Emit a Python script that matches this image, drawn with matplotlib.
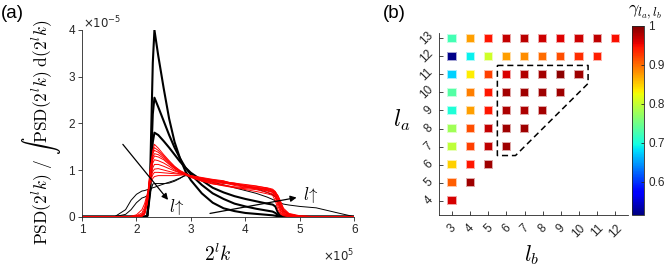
import numpy as np
import matplotlib
matplotlib.use("Agg")
import matplotlib.pyplot as plt
from matplotlib.colors import Normalize

plt.rcParams['font.family'] = ['Liberation Sans', 'DejaVu Sans']
plt.rcParams['mathtext.fontset'] = 'cm'

# ---------------- panel (a) data ----------------
x_grid = [1.0, 1.6, 1.8, 1.9, 2.0, 2.1, 2.15, 2.2, 2.25, 2.3, 2.33, 2.4, 2.5, 2.6, 2.7,
          2.8, 2.9, 3.0, 3.2, 3.4, 3.6, 3.8, 4.0, 4.2, 4.4, 4.5, 4.55, 4.6, 4.65, 4.7,
          4.8, 5.0, 5.3, 5.7, 6.0]

red_psd = [
    [0, 0, 0, 0, 0, 0.02, 0.08, 0.35, 0.95, 1.42, 1.55, 1.47, 1.33, 1.2, 1.08, 0.99, 0.93, 0.86, 0.78, 0.72, 0.68, 0.63, 0.58, 0.54, 0.49, 0.46, 0.34, 0.14, 0.05, 0.02, 0, 0, 0, 0, 0],
    [0, 0, 0, 0, 0, 0.01, 0.06, 0.3, 0.9, 1.38, 1.48, 1.42, 1.3, 1.18, 1.07, 0.98, 0.92, 0.87, 0.8, 0.75, 0.73, 0.69, 0.66, 0.63, 0.57, 0.53, 0.42, 0.22, 0.08, 0.03, 0, 0, 0, 0, 0],
    [0, 0, 0, 0, 0, 0.02, 0.1, 0.4, 1.0, 1.35, 1.42, 1.38, 1.28, 1.16, 1.05, 0.97, 0.91, 0.85, 0.77, 0.71, 0.66, 0.62, 0.6, 0.58, 0.52, 0.49, 0.43, 0.28, 0.12, 0.05, 0.01, 0, 0, 0, 0],
    [0, 0, 0, 0, 0, 0.01, 0.05, 0.28, 0.85, 1.28, 1.35, 1.33, 1.25, 1.14, 1.04, 0.96, 0.9, 0.86, 0.81, 0.78, 0.75, 0.72, 0.69, 0.66, 0.61, 0.57, 0.5, 0.3, 0.14, 0.06, 0.02, 0, 0, 0, 0],
    [0, 0, 0, 0, 0, 0.02, 0.08, 0.32, 0.88, 1.22, 1.3, 1.28, 1.22, 1.12, 1.03, 0.95, 0.9, 0.84, 0.76, 0.7, 0.67, 0.64, 0.62, 0.6, 0.55, 0.52, 0.46, 0.33, 0.18, 0.08, 0.02, 0, 0, 0, 0],
    [0, 0, 0, 0, 0, 0.03, 0.1, 0.38, 0.9, 1.15, 1.22, 1.2, 1.15, 1.08, 1.0, 0.94, 0.9, 0.87, 0.83, 0.79, 0.76, 0.71, 0.64, 0.6, 0.56, 0.53, 0.48, 0.37, 0.2, 0.1, 0.03, 0.01, 0, 0, 0],
    [0, 0, 0, 0, 0, 0.02, 0.08, 0.3, 0.8, 1.05, 1.12, 1.12, 1.08, 1.03, 0.98, 0.94, 0.9, 0.86, 0.79, 0.74, 0.71, 0.7, 0.68, 0.65, 0.62, 0.59, 0.54, 0.42, 0.25, 0.12, 0.04, 0.01, 0, 0, 0],
    [0, 0, 0, 0, 0.01, 0.05, 0.15, 0.45, 0.8, 0.97, 1.02, 1.03, 1.0, 0.97, 0.94, 0.92, 0.9, 0.88, 0.82, 0.77, 0.73, 0.67, 0.63, 0.61, 0.58, 0.55, 0.5, 0.4, 0.26, 0.14, 0.05, 0.01, 0, 0, 0],
    [0, 0, 0, 0, 0.02, 0.08, 0.2, 0.45, 0.75, 0.9, 0.95, 0.95, 0.94, 0.93, 0.92, 0.91, 0.9, 0.87, 0.81, 0.76, 0.74, 0.72, 0.66, 0.62, 0.59, 0.56, 0.52, 0.44, 0.3, 0.16, 0.06, 0.01, 0, 0, 0],
    [0, 0, 0, 0.01, 0.04, 0.15, 0.28, 0.5, 0.7, 0.82, 0.86, 0.88, 0.88, 0.88, 0.88, 0.89, 0.9, 0.88, 0.84, 0.8, 0.77, 0.69, 0.65, 0.63, 0.6, 0.57, 0.53, 0.45, 0.32, 0.18, 0.07, 0.02, 0, 0, 0],
]

black_thick_psd = [
    [0, 0, 0, 0, 0, 0, 0, 0.02, 0.8, 3.3, 4.0, 3.45, 2.75, 2.1, 1.6, 1.25, 0.97, 0.78, 0.5, 0.3, 0.18, 0.12, 0.08, 0.06, 0.04, 0.03, 0.02, 0.01, 0, 0, 0, 0, 0, 0, 0],
    [0, 0, 0, 0, 0, 0, 0, 0.02, 0.6, 2.2, 2.55, 2.35, 2.05, 1.75, 1.48, 1.25, 1.05, 0.9, 0.68, 0.5, 0.38, 0.28, 0.22, 0.17, 0.13, 0.11, 0.08, 0.03, 0.01, 0, 0, 0, 0, 0, 0],
    [0, 0, 0, 0, 0, 0, 0, 0.02, 0.5, 1.6, 1.8, 1.75, 1.62, 1.48, 1.33, 1.18, 1.05, 0.94, 0.78, 0.62, 0.52, 0.44, 0.38, 0.33, 0.28, 0.26, 0.22, 0.08, 0.02, 0, 0, 0, 0, 0, 0],
]

black_thin_psd = [
    [0, 0, 0.15, 0.35, 0.48, 0.55, 0.56, 0.58, 0.6, 0.62, 0.63, 0.66, 0.7, 0.74, 0.78, 0.83, 0.88, 0.86, 0.8, 0.74, 0.68, 0.62, 0.56, 0.5, 0.42, 0.37, 0.34, 0.31, 0.29, 0.27, 0.25, 0.22, 0.19, 0.08, 0.0],
    [0, 0, 0.05, 0.15, 0.3, 0.4, 0.42, 0.45, 0.5, 0.7, 0.71, 0.71, 0.71, 0.72, 0.76, 0.82, 0.9, 0.88, 0.82, 0.78, 0.74, 0.7, 0.66, 0.6, 0.52, 0.47, 0.42, 0.32, 0.2, 0.12, 0.05, 0.01, 0, 0, 0],
]

# ---------------- panel (b) data ----------------
la_values = [13, 12, 11, 10, 9, 8, 7, 6, 5, 4]
gamma_rows = [
    [0.724, 0.874, 0.945, 0.970, 0.975, 0.967, 0.959, 0.967, 0.973, 0.947],
    [0.520, 0.690, 0.806, 0.874, 0.883, 0.900, 0.916, 0.932, 0.940],
    [0.675, 0.835, 0.924, 0.962, 0.978, 0.983, 0.994, 0.986],
    [0.733, 0.891, 0.945, 0.983, 0.986, 0.986, 0.986],
    [0.704, 0.874, 0.945, 0.980, 0.980, 0.983],
    [0.779, 0.916, 0.970, 0.986, 0.986],
    [0.797, 0.924, 0.973, 0.986],
    [0.850, 0.945, 0.986],
    [0.908, 0.986],
    [0.963],
]
lb_start = 3
box_lb = [5.5, 10.5, 10.5, 6.5, 5.5, 5.5]
box_la = [11.5, 11.5, 10.5, 6.5, 6.5, 11.5]

# ---------------- figure ----------------
W, H = 664, 266
fig = plt.figure(figsize=(W / 100, H / 100), dpi=100)

def fx(px):
    return px / W

def fy(py):
    return 1 - py / H

tc = '#262626'

# panel (a)
axa = fig.add_axes([fx(82), fy(216.7), fx(354.3) - fx(82), fy(30) - fy(216.7)])
xg = np.array(x_grid)
for row in black_thin_psd:
    axa.plot(xg, row, color='k', lw=0.7)
for row in black_thick_psd:
    axa.plot(xg, row, color='k', lw=1.5)
for row in red_psd:
    axa.plot(xg, row, color='#ff0000', lw=0.7)

axa.set_xlim(1, 6)
axa.set_ylim(0, 4)
axa.set_xticks([1, 2, 3, 4, 5, 6])
axa.set_yticks([0, 1, 2, 3, 4])
for s in ['top', 'right']:
    axa.spines[s].set_visible(False)
for s in ['left', 'bottom']:
    axa.spines[s].set_color(tc)
    axa.spines[s].set_linewidth(0.6)
axa.tick_params(direction='out', length=3, width=0.6, labelsize=8.5, colors=tc, pad=2)

axa.annotate('', xy=(2.58, 0.36), xytext=(1.75, 1.55),
             arrowprops=dict(arrowstyle='-|>', color='k', lw=0.9, mutation_scale=9, shrinkA=0, shrinkB=0))
axa.annotate('', xy=(4.94, 0.41), xytext=(3.35, 0.07),
             arrowprops=dict(arrowstyle='-|>', color='k', lw=0.9, mutation_scale=9, shrinkA=0, shrinkB=0))
axa.text(2.74, 0.2, r'$l\!\uparrow$', fontsize=12, ha='center', va='center')
axa.text(5.2, 0.47, r'$l\!\uparrow$', fontsize=12, ha='center', va='center')

axa.set_ylabel(r'$\mathrm{PSD}(2^l k)\ /\ \int\,\mathrm{PSD}(2^l k)\ \mathrm{d}(2^l k)$', fontsize=12.5)
axa.yaxis.set_label_coords(-0.07, 0.45)
axa.set_xlabel(r'$2^l k$', fontsize=14)
axa.xaxis.set_label_coords(0.5, -0.145)

fig.text(fx(83), fy(23), r'$\times10^{-5}$', fontsize=8.5, color=tc, va='center', ha='left',
         math_fontfamily='dejavusans')
fig.text(fx(354), fy(256), r'$\times10^{5}$', fontsize=8.5, color=tc, va='center', ha='right',
         math_fontfamily='dejavusans')
fig.text(fx(1), fy(14), '(a)', fontsize=13.5, va='center', ha='left')
fig.text(fx(383), fy(14), '(b)', fontsize=13.5, va='center', ha='left')

# panel (b)
axb = fig.add_axes([fx(439.3), fy(215), fx(628) - fx(439.3), fy(33) - fy(215)])
norm = Normalize(vmin=0.515, vmax=1.0)
cmap = plt.get_cmap('jet')
xs, ys, vs = [], [], []
for la, row in zip(la_values, gamma_rows):
    for i, v in enumerate(row):
        xs.append(lb_start + i)
        ys.append(la)
        vs.append(v)
axb.scatter(xs, ys, c=vs, cmap=cmap, norm=norm, marker='s', s=44, alpha=0.35, linewidths=0)
sc = axb.scatter(xs, ys, c=vs, cmap=cmap, norm=norm, marker='s', s=26, linewidths=0)
axb.plot(box_lb, box_la, color='k', lw=1.1, ls=(0, (4, 2.5)))

axb.set_xlim(2.3, 12.7)
axb.set_ylim(3.2, 13.3)
axb.set_xticks(range(3, 13))
axb.set_yticks(range(4, 14))
for s in ['top', 'right']:
    axb.spines[s].set_visible(False)
for s in ['left', 'bottom']:
    axb.spines[s].set_color(tc)
    axb.spines[s].set_linewidth(0.6)
axb.tick_params(direction='in', length=3, width=0.6, labelsize=8.5, colors=tc)
axb.tick_params(axis='x', pad=5)
axb.tick_params(axis='y', pad=3)
for lab in axb.get_xticklabels():
    lab.set_rotation(45)
    lab.set_ha('center')
    lab.set_va('top')
for lab in axb.get_yticklabels():
    lab.set_rotation(45)
    lab.set_ha('right')
    lab.set_va('center')
axb.set_xlabel(r'$l_b$', fontsize=16)
axb.xaxis.set_label_coords(0.49, -0.155)
axb.set_ylabel(r'$l_a$', fontsize=17, rotation=0)
axb.yaxis.set_label_coords(-0.2, 0.45)

cax = fig.add_axes([fx(632), fy(215), fx(644) - fx(632), fy(26) - fy(215)])
cb = fig.colorbar(sc, cax=cax)
cb.set_ticks([0.6, 0.7, 0.8, 0.9, 1.0])
cb.set_ticklabels(['0.6', '0.7', '0.8', '0.9', '1'])
cb.ax.tick_params(direction='in', length=2.5, width=0.6, labelsize=8.5, colors=tc, pad=3)
cb.outline.set_linewidth(0.6)
cb.outline.set_edgecolor(tc)
fig.text(fx(662), fy(12), r'$\gamma_{l_a,l_b}$', fontsize=13, ha='right', va='center')

fig.savefig('out.png', dpi=100)
